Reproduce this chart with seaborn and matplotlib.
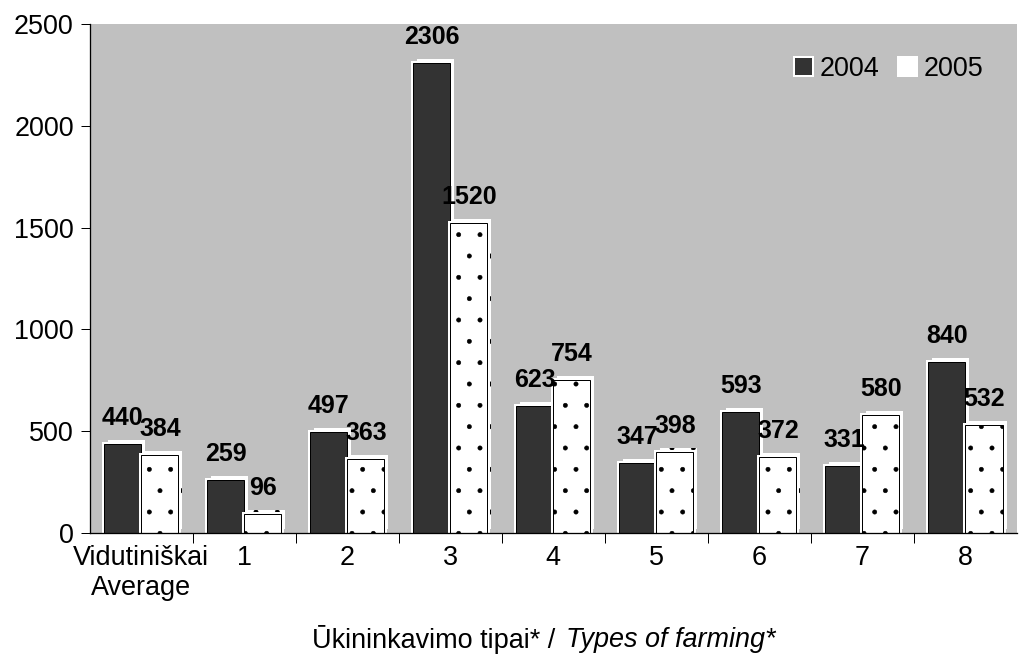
import pandas as pd
import matplotlib
matplotlib.use('Agg')
import matplotlib.pyplot as plt
import matplotlib.patheffects as pe
import seaborn as sns
import numpy as np

categories = ['Vidutiniškai\nAverage', '1', '2', '3', '4', '5', '6', '7', '8']
vals_2004 = [440, 259, 497, 2306, 623, 347, 593, 331, 840]
vals_2005 = [384, 96, 363, 1520, 754, 398, 372, 580, 532]
years = ['2004', '2005']

df = pd.DataFrame({
    'type': categories * 2,
    'value': vals_2004 + vals_2005,
    'year': [years[0]] * len(categories) + [years[1]] * len(categories),
})

# dpi chosen so the dot hatch gets about the same spacing as the original
DPI = 128
def pt(px):
    return px * 72.0 / DPI

sns.set_style('white')
plt.rcParams['font.family'] = ['Liberation Sans', 'DejaVu Sans']
plt.rcParams['hatch.color'] = 'black'
plt.rcParams['hatch.linewidth'] = 0.3
plt.rcParams['text.color'] = 'black'
plt.rcParams['xtick.color'] = 'black'
plt.rcParams['ytick.color'] = 'black'

fs = pt(27)

fig = plt.figure(figsize=(1020 / DPI, 660 / DPI), dpi=DPI)
ax = fig.add_axes([0.088, 0.192, 0.909, 0.772])
ax.set_facecolor('#c0c0c0')

sns.barplot(data=df, x='type', y='value', hue='year', palette=['#333333', 'white'],
            width=0.72, edgecolor='black', linewidth=pt(1), ax=ax)

effects = [pe.SimplePatchShadow(offset=(pt(4), pt(4)), shadow_rgbFace='white', alpha=1.0),
           pe.Stroke(linewidth=pt(5), foreground='white'), pe.Normal()]
for i, cont in enumerate(ax.containers):
    for p in cont:
        p.set_path_effects(effects)
        if i == 1:
            p.set_hatch('.')
    ax.bar_label(cont, padding=pt(14), fontsize=pt(25), fontweight='bold')

ax.set_ylim(0, 2500)
ax.set_xlim(-0.5, 8.5)
ax.set_yticks(range(0, 2501, 500))
ax.tick_params(axis='y', labelsize=fs, length=pt(9), width=pt(1), direction='out', left=True, pad=pt(7))
ax.tick_params(axis='x', which='major', labelsize=fs, length=0, pad=pt(12))
ax.set_xticks(np.arange(0.5, 8.5, 1), minor=True)
ax.tick_params(axis='x', which='minor', length=pt(10), width=pt(1), direction='out', bottom=True)
ax.set_xlabel('')
ax.set_ylabel('')
for s in ['top', 'right']:
    ax.spines[s].set_visible(False)
for s in ['left', 'bottom']:
    ax.spines[s].set_color('black')
    ax.spines[s].set_linewidth(pt(1.3))

# axis title: plain Lithuanian part + italic English part
fig.text(555 / 1020, 1 - 640 / 660, 'Ūkininkavimo tipai* /', ha='right', va='center', fontsize=fs)
fig.text(566 / 1020, 1 - 640 / 660, 'Types of farming*', ha='left', va='center', fontsize=fs,
         style='italic')

leg = ax.legend(loc='upper right', bbox_to_anchor=(0.99, 0.985), frameon=False, fontsize=fs,
                ncol=2, handlelength=0.7, handleheight=0.7, handletextpad=0.25, columnspacing=0.7, title=None)
for h in leg.legend_handles:
    h.set_edgecolor('white')
    h.set_linewidth(pt(2))
    h.set_path_effects([])

fig.savefig('out.png', dpi=DPI, facecolor='white')
